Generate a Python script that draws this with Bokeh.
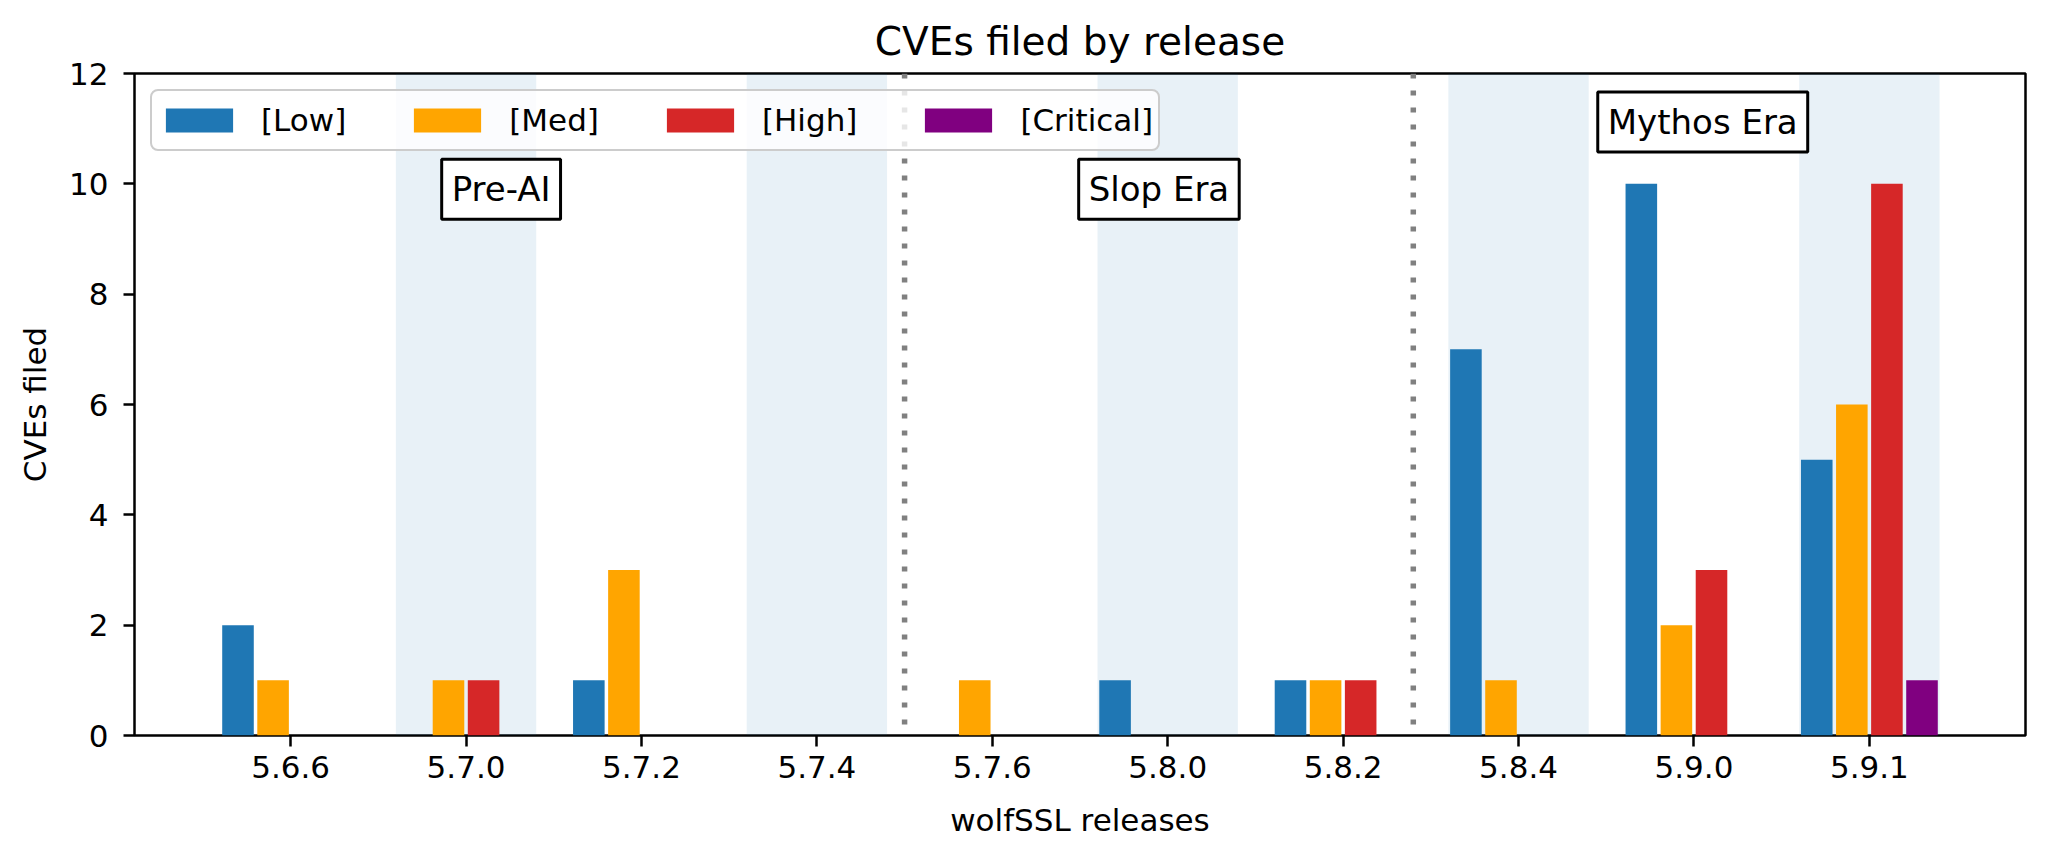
from bokeh.plotting import figure
from bokeh.models import (Range1d, BoxAnnotation, Span, Label, Legend, LegendItem,
                          FixedTicker, ColumnDataSource)
from bokeh.transform import dodge
from bokeh.embed import file_html
from bokeh.resources import INLINE

# ---- data ----
releases = ["5.6.6", "5.7.0", "5.7.2", "5.7.4", "5.7.6", "5.8.0", "5.8.2", "5.8.4", "5.9.0", "5.9.1"]
low = [2, 0, 1, 0, 0, 1, 1, 7, 10, 5]
med = [1, 1, 3, 0, 1, 0, 1, 1, 2, 6]
high = [0, 1, 0, 0, 0, 0, 1, 0, 3, 10]
critical = [0, 0, 0, 0, 0, 0, 0, 0, 0, 1]
severity_labels = ["[Low]", "[Med]", "[High]", "[Critical]"]
y_ticks = [0, 2, 4, 6, 8, 10, 12]
era_names = ["Pre-AI", "Slop Era", "Mythos Era"]

# ---- styling / layout ----
colors = ["#1f77b4", "#ffa500", "#d62728", "#800080"]
offsets = [-0.3, -0.1, 0.1, 0.3]
bar_width = 0.18
shaded_idx = [1, 3, 5, 7, 9]
divider_pos = [3.5, 6.4]
era_x = [1.2, 4.95, 8.05]
era_y = [9.9, 9.9, 11.12]
FONT = "DejaVu Sans"

x = list(range(len(releases)))
src = ColumnDataSource(dict(x=x, low=low, med=med, high=high, critical=critical))

p = figure(width=2032, height=843, output_backend="svg", toolbar_location=None,
           x_range=Range1d(-0.89, 9.89), y_range=Range1d(0, 12),
           min_border_left=134, min_border_right=7, min_border_top=73, min_border_bottom=108)
p.background_fill_color = "white"
p.border_fill_color = "white"
p.grid.visible = False
p.outline_line_color = "black"
p.outline_line_width = 2.5
p.outline_line_alpha = 1.0

# title
p.title.text = "CVEs filed by release"
p.title.align = "center"
p.title.text_font = FONT
p.title.text_font_size = "39px"
p.title.text_font_style = "normal"
p.title.text_color = "black"
p.title.standoff = 19

# shaded bands
for i in shaded_idx:
    p.add_layout(BoxAnnotation(left=i - 0.4, right=i + 0.4, fill_color="#1f77b4",
                               fill_alpha=0.1, line_color=None, level="underlay"))
# dividers
for d in divider_pos:
    p.add_layout(Span(location=d, dimension="height", line_color="#808080",
                      line_width=5.5, line_dash="5 12", level="underlay"))

# bars
renderers = []
for col, off, c in zip(["low", "med", "high", "critical"], offsets, colors):
    r = p.vbar(x=dodge("x", off), top=col, width=bar_width, source=src,
               fill_color=c, line_color=None)
    renderers.append(r)

# axes
for ax in (p.xaxis[0], p.yaxis[0]):
    ax.axis_line_color = None
    ax.major_tick_out = 11
    ax.major_tick_in = 0
    ax.major_tick_line_width = 2.5
    ax.major_tick_line_color = "black"
    ax.minor_tick_line_color = None
    ax.major_label_text_font = FONT
    ax.major_label_text_font_size = "31px"
    ax.major_label_text_color = "black"
    ax.axis_label_text_font = FONT
    ax.axis_label_text_font_size = "31px"
    ax.axis_label_text_font_style = "normal"
    ax.axis_label_text_color = "black"

p.xaxis.ticker = FixedTicker(ticks=x)
p.xaxis.major_label_overrides = {i: r for i, r in zip(x, releases)}
p.xaxis.axis_label = "wolfSSL releases"
p.xaxis.major_label_standoff = 9
p.xaxis.axis_label_standoff = 21

p.yaxis.ticker = FixedTicker(ticks=y_ticks)
p.yaxis.axis_label = "CVEs filed"
p.yaxis.major_label_standoff = 15
p.yaxis.axis_label_standoff = 13

# era labels
for name, ex, ey in zip(era_names, era_x, era_y):
    p.add_layout(Label(x=ex, y=ey, text=name, text_align="center", text_baseline="middle",
                       text_font=FONT, text_font_size="34px", text_color="black",
                       border_line_color="black", border_line_width=3,
                       background_fill_color="white", background_fill_alpha=1.0,
                       padding=10))

# legend
legend = Legend(items=[LegendItem(label=l, renderers=[r]) for l, r in zip(severity_labels, renderers)],
                orientation="horizontal", location="top_left", margin=16,
                padding=5, spacing=59, glyph_width=84, glyph_height=30, label_height=48,
                label_standoff=20,
                label_text_font=FONT, label_text_font_size="31px", label_text_color="black",
                border_line_color="#cccccc", border_line_width=2, border_line_alpha=1.0,
                background_fill_color="white", background_fill_alpha=0.8)
if "border_radius" in Legend.properties():
    legend.border_radius = 8
p.add_layout(legend, "center")

open("out.html", "w").write(file_html(p, INLINE))
